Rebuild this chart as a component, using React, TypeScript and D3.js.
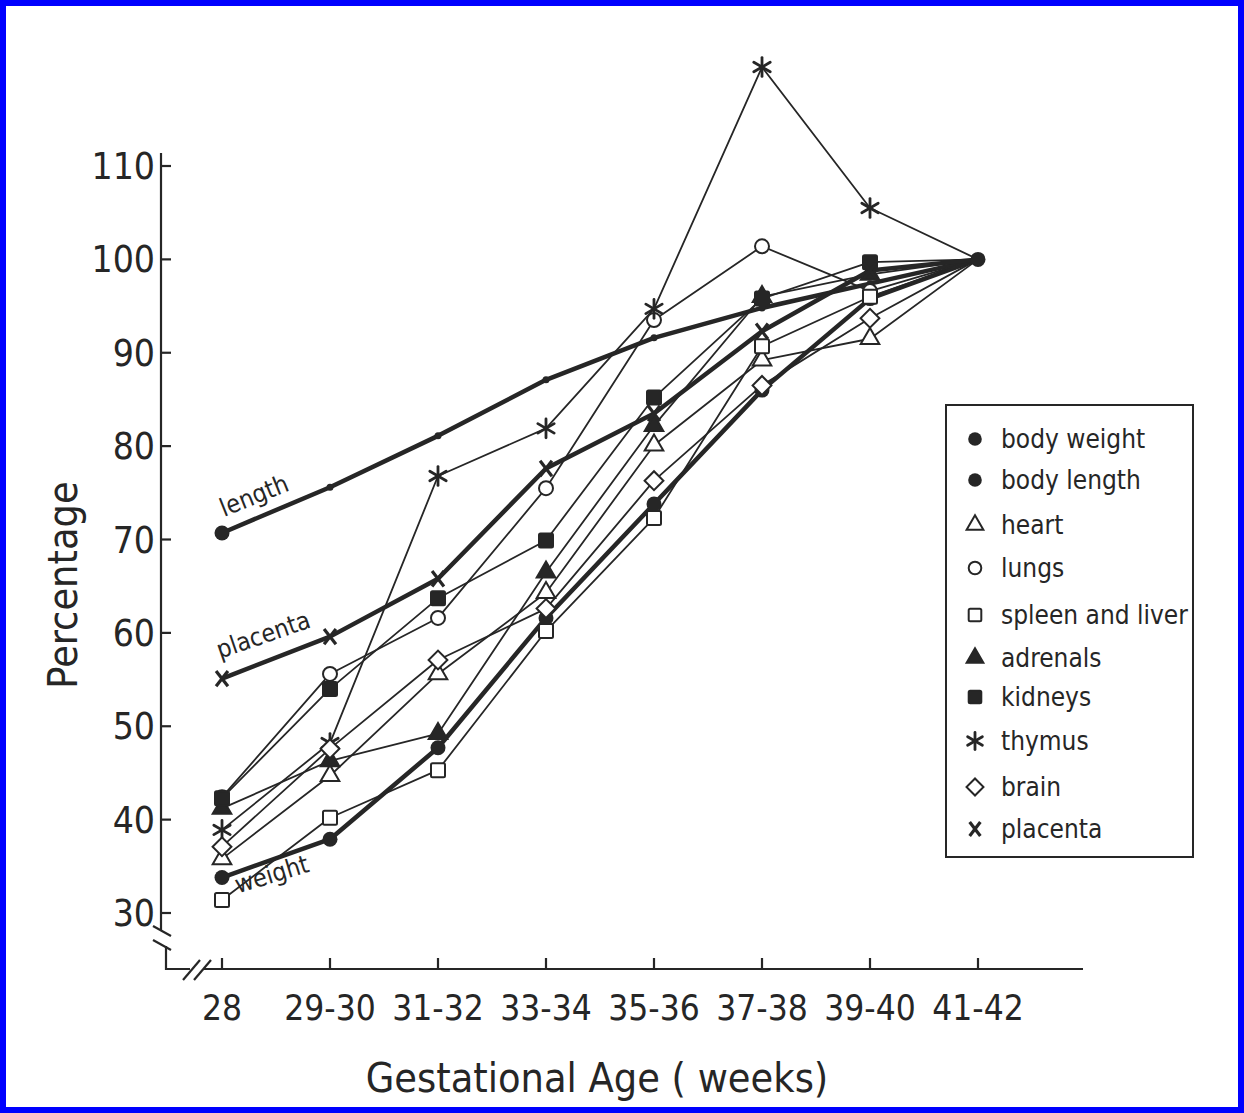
import * as d3 from "d3";

const ages = ["28", "29-30", "31-32", "33-34", "35-36", "37-38", "39-40", "41-42"];

const bodyWeight = [33.8, 37.9, 47.7, 61.6, 73.8, 86.0, 95.8, 100];
const bodyLength = [70.7, 75.6, 81.1, 87.1, 91.6, 94.8, 97.4, 100];
const heart = [35.8, 44.7, 55.6, 64.3, 80.1, 89.2, 91.5, 100];
const lungs = [42.4, 55.6, 61.6, 75.5, 93.5, 101.4, 96.6, 100];
const spleenLiver = [31.4, 40.2, 45.3, 60.2, 72.3, 90.7, 96.0, 100];
const adrenals = [41.2, 46.3, 49.2, 66.5, 82.2, 96.0, 98.4, 100];
const kidneys = [42.3, 54.0, 63.7, 69.9, 85.2, 95.8, 99.7, 100];
const thymus = [38.9, 48.2, 76.8, 81.9, 94.7, 120.6, 105.5, 100];
const brain = [37.1, 47.6, 57.1, 62.6, 76.3, 86.5, 93.7, 100];
const placenta = [55.1, 59.6, 65.8, 77.6, 83.5, 92.3, 98.8, 100];

const series = [
  { name: "body weight", values: bodyWeight, shape: "dot", thick: true, label: "weight" },
  { name: "body length", values: bodyLength, shape: "dot", thick: true, label: "length" },
  { name: "heart", values: heart, shape: "triangle", thick: false },
  { name: "lungs", values: lungs, shape: "circle", thick: false },
  { name: "spleen and liver", values: spleenLiver, shape: "square", thick: false },
  { name: "adrenals", values: adrenals, shape: "triangleFilled", thick: false },
  { name: "kidneys", values: kidneys, shape: "squareFilled", thick: false },
  { name: "thymus", values: thymus, shape: "asterisk", thick: false },
  { name: "brain", values: brain, shape: "diamond", thick: false },
  { name: "placenta", values: placenta, shape: "x", thick: true, label: "placenta" },
];

const W = 1244;
const H = 1113;
const INK = "#262626";
const FONT = "'DejaVu Sans Condensed', 'Liberation Sans Narrow', 'DejaVu Sans', sans-serif";

const x = d3.scalePoint<string>().domain(ages).range([222, 978]);
const y = d3.scaleLinear().domain([30, 110]).range([913, 166]);

function Marker({ shape, cx, cy, s = 1 }: { shape: string; cx: number; cy: number; s?: number }) {
  const r = 7 * s;
  const common = { stroke: INK, strokeWidth: 2 };
  switch (shape) {
    case "dot":
      return <circle cx={cx} cy={cy} r={r + 0.5} fill={INK} />;
    case "circle":
      return <circle cx={cx} cy={cy} r={r} fill="#fff" {...common} />;
    case "triangle":
    case "triangleFilled": {
      const p = d3.symbol(d3.symbolTriangle, 150 * s * s)()!;
      return (
        <path d={p} transform={`translate(${cx},${cy})`} fill={shape === "triangle" ? "#fff" : INK} {...common} />
      );
    }
    case "square":
    case "squareFilled":
      return (
        <rect x={cx - r} y={cy - r} width={2 * r} height={2 * r} rx={1.5}
          fill={shape === "square" ? "#fff" : INK} {...common} />
      );
    case "diamond":
      return (
        <rect x={-r * 0.95} y={-r * 0.95} width={1.9 * r} height={1.9 * r}
          transform={`translate(${cx},${cy}) rotate(45)`} fill="#fff" {...common} />
      );
    case "asterisk": {
      const a = d3.range(3).map((i) => (i * Math.PI) / 3 + Math.PI / 2);
      const k = r * 1.35;
      return (
        <g stroke={INK} strokeWidth={2.8} strokeLinecap="round">
          {a.map((t, i) => (
            <line key={i} x1={cx - Math.cos(t) * k} y1={cy - Math.sin(t) * k}
              x2={cx + Math.cos(t) * k} y2={cy + Math.sin(t) * k} />
          ))}
        </g>
      );
    }
    case "x":
      return (
        <g stroke={INK} strokeWidth={3.2}>
          <line x1={cx - r * 0.85} y1={cy - r * 1.1} x2={cx + r * 0.85} y2={cy + r * 1.1} />
          <line x1={cx + r * 0.85} y1={cy - r * 1.1} x2={cx - r * 0.85} y2={cy + r * 1.1} />
        </g>
      );
    default:
      return null;
  }
}

export default function App() {
  const line = d3
    .line<number>()
    .x((_, i) => x(ages[i])!)
    .y((v) => y(v));

  const yTicks = y.ticks(8);
  const axisX = 161;
  const axisY = 969;

  const legendRows = [439, 480, 525, 568, 615, 658, 697, 741, 787, 829];

  return (
    <svg width={W} height={H} style={{ position: "absolute", left: 0, top: 0, background: "#fff" }}
      fontFamily={FONT}>
      <rect x={0} y={0} width={W} height={H} fill="#fff" stroke="#0000ff" strokeWidth={12} />

      {/* y axis with break */}
      <g stroke={INK} strokeWidth={2.2} fill="none">
        <line x1={axisX} y1={153} x2={axisX} y2={930} />
        <line x1={axisX - 8} y1={926} x2={axisX + 10} y2={936} />
        <line x1={axisX - 8} y1={940} x2={axisX + 10} y2={950} />
        <polyline points={`${axisX + 5},${946} ${axisX + 5},${axisY} ${190},${axisY}`} />
        <line x1={183} y1={980} x2={200} y2={960} />
        <line x1={194} y1={980} x2={211} y2={960} />
        <line x1={204} y1={axisY} x2={1083} y2={axisY} />
        {yTicks.map((t) => (
          <line key={t} x1={axisX} y1={y(t)} x2={axisX + 10} y2={y(t)} />
        ))}
        {ages.map((a) => (
          <line key={a} x1={x(a)} y1={axisY} x2={x(a)} y2={axisY - 11} />
        ))}
      </g>

      {yTicks.map((t) => (
        <text key={t} x={axisX - 6} y={y(t) + 13} textAnchor="end" fontSize={37} fill={INK}>
          {t}
        </text>
      ))}
      {ages.map((a) => (
        <text key={a} x={x(a)} y={1020} textAnchor="middle" fontSize={35} fill={INK}>
          {a}
        </text>
      ))}
      <text x={597} y={1092} textAnchor="middle" fontSize={41} fill={INK}>
        Gestational Age ( weeks)
      </text>
      <text transform="translate(77,585) rotate(-90)" textAnchor="middle" fontSize={41} fill={INK}>
        Percentage
      </text>

      {/* series lines */}
      <g fill="none" stroke={INK} strokeLinejoin="round">
        {series.map((s) => (
          <path key={s.name} d={line(s.values)!} strokeWidth={s.thick ? 4.5 : 1.8} />
        ))}
      </g>

      {/* markers */}
      {series.map((s) =>
        s.values.map((v, i) => {
          if (i === ages.length - 1 && s.name !== "body weight") return null;
          if (s.name === "body length" && i > 0 && i < ages.length - 1)
            return <circle key={s.name + i} cx={x(ages[i])} cy={y(v)} r={3.5} fill={INK} />;
          return <Marker key={s.name + i} shape={s.shape} cx={x(ages[i])!} cy={y(v)} />;
        })
      )}

      {/* inline labels */}
      <text transform={`translate(224,${y(bodyLength[0]) - 16}) rotate(-22)`} fontSize={25} fill={INK}>
        length
      </text>
      <text transform={`translate(220,${y(placenta[0]) - 20}) rotate(-19)`} fontSize={25} fill={INK}>
        placenta
      </text>
      <text transform={`translate(238,${y(bodyWeight[0]) + 16}) rotate(-17)`} fontSize={25} fill={INK}>
        weight
      </text>

      {/* legend */}
      <rect x={946} y={405} width={247} height={452} fill="#fff" stroke={INK} strokeWidth={2} />
      {series.map((s, i) => (
        <g key={s.name}>
          <Marker shape={s.shape} cx={975} cy={legendRows[i]} s={0.9} />
          <text x={1001} y={legendRows[i] + 9} fontSize={26} fill={INK}>
            {s.name}
          </text>
        </g>
      ))}
    </svg>
  );
}
